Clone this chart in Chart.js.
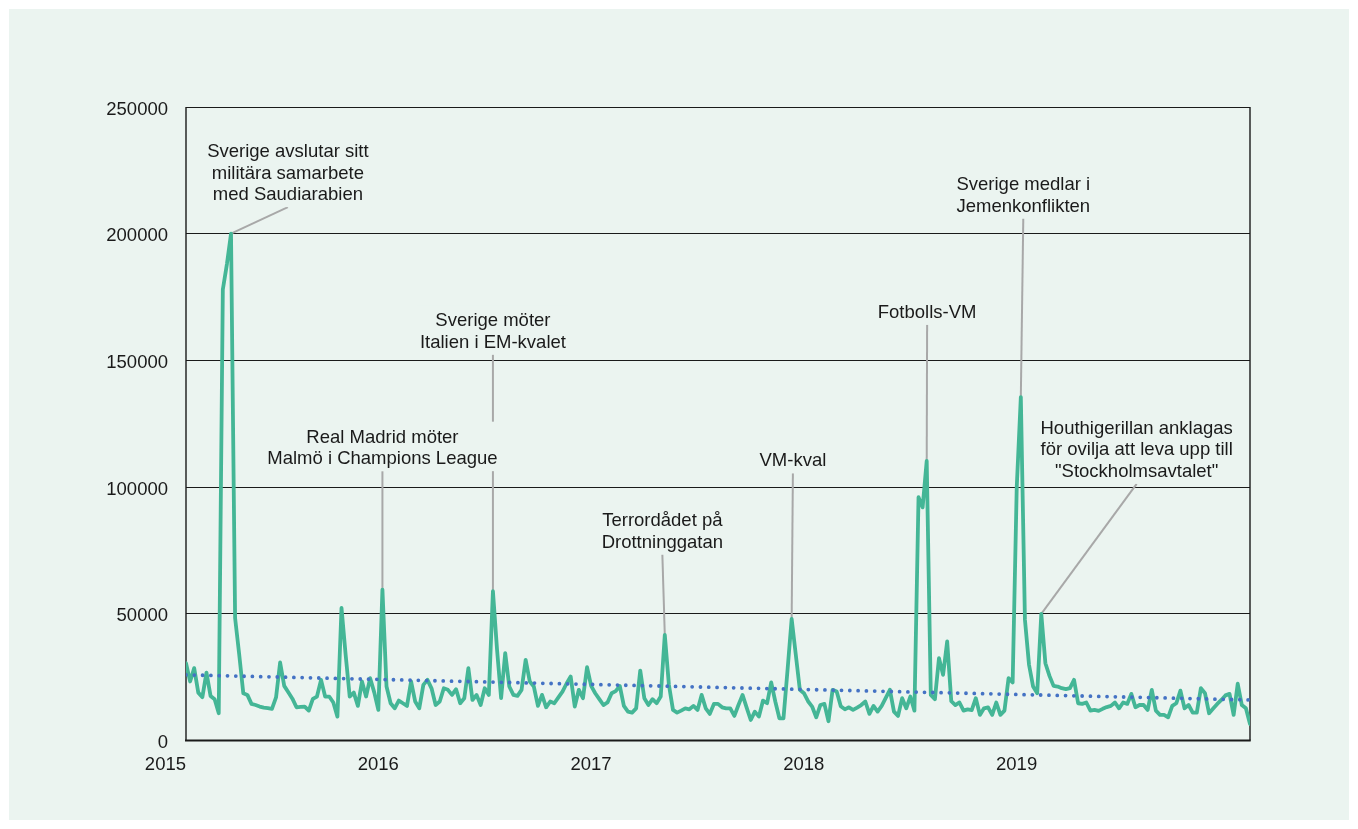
<!DOCTYPE html>
<html lang="sv">
<head>
<meta charset="utf-8">
<title>Veckovisa sökningar 2015–2019</title>
<script src="https://cdn.jsdelivr.net/npm/chart.js@4.4.1/dist/chart.umd.min.js"></script>
<style>
  html, body { margin: 0; padding: 0; background: #ffffff; }
  #panel { position: absolute; left: 9px; top: 9px; width: 1340px; height: 811px; background: #ebf4f0; }
  #wrap { position: absolute; left: 0; top: 0; width: 1358px; height: 829px; }
</style>
</head>
<body>
<div id="panel"></div>
<div id="wrap"><canvas id="chart"></canvas></div>
<script>
// Weekly counts, one array per year (week 1 first)
const weeks2015 = [
  30500, 23300, 28550, 18900, 17100, 26800, 17600, 16300, 10750, 178000, 188000, 200000, 48300,
  34000, 18660, 18000, 14440, 14000, 13400, 13000, 12800, 12500, 17000, 30800, 21560, 19000,
  16500, 13100, 13300, 13400, 11800, 16400, 17350, 23940, 17350, 17350, 15000, 9430, 52300,
  34000, 17350, 18900, 13650, 23300, 17350, 24600, 19000, 12070, 59550, 21300, 14700, 12700
];
const weeks2016 = [
  15760, 14700, 13650, 23300, 15400, 12700, 21960, 23940, 20600, 14000, 15400, 20600, 20000,
  18000, 20250, 14700, 16700, 28550, 16000, 18000, 14000, 20600, 18000, 58900, 36000, 16700,
  34500, 21300, 18000, 17600, 20000, 31850, 23300, 21300, 13650, 18000, 13100, 15400, 14700,
  17000, 19300, 22500, 25250, 13400, 20000, 16700, 28950, 21550, 18660, 16300, 14000, 15000
];
const weeks2017 = [
  18660, 19500, 21550, 13650, 11400, 11000, 12700, 27600, 16700, 14000, 16300, 14700, 17350,
  41650, 22000, 12070, 11000, 11800, 12700, 12300, 13650, 12070, 18000, 12700, 10500, 14440,
  14440, 13100, 12700, 12700, 9700, 14000, 18000, 13000, 8100, 11400, 9430, 15760, 14700,
  22900, 15400, 8770, 8770, 28000, 48000, 34000, 20000, 18660, 15500, 13400, 9160, 14000
];
const weeks2018 = [
  14440, 7600, 20000, 19300, 13500, 12300, 13100, 12070, 13000, 14000, 15400, 10500, 13650,
  11400, 13650, 16800, 20000, 11400, 9700, 16700, 12700, 17350, 11800, 96000, 92000, 110300,
  18000, 16300, 32500, 25900, 39100, 15500, 14000, 15000, 11800, 12300, 12000, 16700, 10100,
  12700, 13100, 10100, 15000, 10100, 11800, 24600, 22900, 100000, 135500, 47700, 29900, 21300
];
const weeks2019 = [
  18660, 50000, 30500, 25500, 21550, 21300, 20650, 20250, 20650, 23940, 14700, 14440, 15000,
  11800, 12070, 11670, 12500, 13200, 13650, 15000, 12700, 15000, 14440, 18400, 13100, 14000,
  14000, 12070, 20000, 11800, 10100, 10100, 9160, 13650, 14700, 19700, 12700, 14000, 11000,
  11000, 20650, 18660, 10750, 12600, 14440, 16000, 17800, 18400, 10100, 22400, 14000, 12700, 6500
];

// Linear trend: value at the first and at the last week
const trendValues = [25900, 16000];

// Axis labels
const yearLabels = ['2015', '2016', '2017', '2018', '2019'];
const yearStartWeeks = [0, 52, 104, 156, 208];
const yTicks = [0, 50000, 100000, 150000, 200000, 250000];

// Event notes: week of the event, text lines, label centre (week, value of first line)
const notes = [
  { week: 11,  lines: ['Sverige avslutar sitt', 'militära samarbete', 'med Saudiarabien'], labelWeek: 24.9,  labelValue: 233000 },
  { week: 48,  lines: ['Real Madrid möter', 'Malmö i Champions League'], labelWeek: 48.0, labelValue: 120300 },
  { week: 75,  lines: ['Sverige möter', 'Italien i EM-kvalet'], labelWeek: 75.0, labelValue: 166300 },
  { week: 117, lines: ['Terrordådet på', 'Drottninggatan'], labelWeek: 116.4, labelValue: 87400 },
  { week: 148, lines: ['VM-kval'], labelWeek: 148.3, labelValue: 111000 },
  { week: 181, lines: ['Fotbolls-VM'], labelWeek: 181.1, labelValue: 169600 },
  { week: 204, lines: ['Sverige medlar i', 'Jemenkonflikten'], labelWeek: 204.6, labelValue: 220000 },
  { week: 209, lines: ['Houthigerillan anklagas', 'för ovilja att leva upp till', '"Stockholmsavtalet"'], labelWeek: 232.3, labelValue: 123800 }
];

const series = [].concat(weeks2015, weeks2016, weeks2017, weeks2018, weeks2019);
const seriesPoints = series.map((v, i) => ({ x: i, y: v }));
const lastWeek = series.length - 1;
const trendPoints = [{ x: 0, y: trendValues[0] }, { x: lastWeek, y: trendValues[1] }];

const FONT_FAMILY = '"Liberation Sans", Arial, Helvetica, sans-serif';
const FONT_SIZE = 18.5;
const TEXT_COLOR = '#1a1a1a';
const PANEL_COLOR = '#ebf4f0';
const LINE_HEIGHT = 21.5;
const TEXT_NUDGE = 2;

// Plot frame plus the event notes with their leader lines
const frameAndNotes = {
  id: 'frameAndNotes',
  beforeDatasetsDraw(chart) {
    const { ctx, chartArea: a, scales: { x, y } } = chart;
    ctx.save();
    ctx.strokeStyle = '#1a1a1a';
    ctx.lineWidth = 1.4;
    ctx.beginPath();
    ctx.moveTo(a.left, a.top); ctx.lineTo(a.left, a.bottom);
    ctx.moveTo(a.right, a.top); ctx.lineTo(a.right, a.bottom);
    ctx.stroke();
    ctx.lineWidth = 2.2;
    ctx.beginPath();
    ctx.moveTo(a.left - 1, a.bottom); ctx.lineTo(a.right + 0.7, a.bottom);
    ctx.stroke();

    const layouts = notes.map(n => {
      const cx = x.getPixelForValue(n.labelWeek);
      const firstY = y.getPixelForValue(n.labelValue);
      const lastY = firstY + (n.lines.length - 1) * LINE_HEIGHT;
      return { n, cx, firstY, lastY };
    });

    // leader lines first
    ctx.strokeStyle = '#a8a8a8';
    ctx.lineWidth = 2;
    ctx.lineCap = 'butt';
    layouts.forEach(({ n, cx, lastY }) => {
      const px = x.getPixelForValue(n.week);
      const py = y.getPixelForValue(series[n.week]);
      ctx.beginPath();
      ctx.moveTo(cx, lastY + 14);
      ctx.lineTo(px, py);
      ctx.stroke();
    });

    // text blocks on a panel-coloured ground
    ctx.font = FONT_SIZE + 'px ' + FONT_FAMILY;
    ctx.textAlign = 'center';
    ctx.textBaseline = 'middle';
    layouts.forEach(({ n, cx, firstY, lastY }) => {
      const w = Math.max(...n.lines.map(t => ctx.measureText(t).width));
      ctx.fillStyle = PANEL_COLOR;
      ctx.fillRect(cx - w / 2 - 3, firstY - 14, w + 6, lastY - firstY + 28);
      ctx.fillStyle = TEXT_COLOR;
      n.lines.forEach((t, k) => ctx.fillText(t, cx, firstY + k * LINE_HEIGHT + TEXT_NUDGE));
    });
    ctx.restore();
  }
};

new Chart(document.getElementById('chart'), {
  type: 'line',
  data: {
    datasets: [
      {
        label: 'Trend',
        data: trendPoints,
        borderColor: '#4472c4',
        borderWidth: 3.8,
        borderDash: [0, 8.3],
        borderCapStyle: 'round',
        pointRadius: 0,
        fill: false,
        order: 0
      },
      {
        label: 'Antal',
        data: seriesPoints,
        borderColor: '#44b696',
        borderWidth: 3.8,
        borderJoinStyle: 'round',
        borderCapStyle: 'round',
        pointRadius: 0,
        tension: 0,
        fill: false,
        order: 1
      }
    ]
  },
  options: {
    responsive: true,
    maintainAspectRatio: false,
    animation: false,
    layout: { padding: { top: 107, right: 108, bottom: 0, left: 0 } },
    plugins: { legend: { display: false }, tooltip: { enabled: false } },
    scales: {
      x: {
        type: 'linear',
        min: 0,
        max: lastWeek,
        grid: { display: false, drawTicks: false },
        border: { display: false },
        afterBuildTicks(scale) { scale.ticks = yearStartWeeks.map(v => ({ value: v })); },
        afterFit(scale) { scale.height = 88.5; },
        ticks: {
          autoSkip: false,
          maxRotation: 0,
          align: 'end',
          padding: 13,
          color: TEXT_COLOR,
          font: { family: FONT_FAMILY, size: FONT_SIZE },
          callback: (value, index) => yearLabels[index]
        }
      },
      y: {
        min: 0,
        max: 250000,
        grid: { color: '#1a1a1a', lineWidth: 1, drawTicks: false },
        border: { display: false },
        afterBuildTicks(scale) { scale.ticks = yTicks.map(v => ({ value: v })); },
        afterFit(scale) { scale.width = 186; },
        ticks: {
          padding: 18,
          labelOffset: 2.5,
          color: TEXT_COLOR,
          font: { family: FONT_FAMILY, size: FONT_SIZE },
          callback: value => String(value)
        }
      }
    }
  },
  plugins: [frameAndNotes]
});
</script>
</body>
</html>
